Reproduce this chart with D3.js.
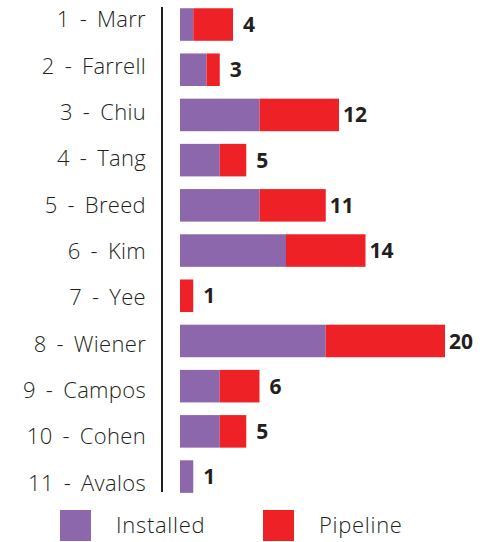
<!DOCTYPE html>
<html>
<head>
<meta charset="utf-8">
<script src="https://cdn.jsdelivr.net/npm/d3@7"></script>
<style>
  body { margin: 0; background: #fff; }
  text { font-family: "Open Sans", "Liberation Sans", sans-serif; }
</style>
</head>
<body>
<div id="chart"></div>
<script>
var districts = ['1 - Marr', '2 - Farrell', '3 - Chiu', '4 - Tang', '5 - Breed', '6 - Kim',
  '7 - Yee', '8 - Wiener', '9 - Campos', '10 - Cohen', '11 - Avalos'];
var installed = [1, 2, 6, 3, 6, 8, 0, 11, 3, 3, 1];
var pipeline = [3, 1, 6, 2, 5, 6, 1, 9, 3, 2, 0];
var seriesNames = ['Installed', 'Pipeline'];
var seriesColors = ['#8c67ab', '#ee2226'];

var w = 497;
var h = 542;
var font = '"Open Sans", "Liberation Sans", sans-serif';

var svg = d3.select('#chart').append('svg')
  .attr('width', w)
  .attr('height', h);

var rows = districts.map(function (d, i) {
  return { name: d, Installed: installed[i], Pipeline: pipeline[i] };
});

var stack = d3.stack().keys(seriesNames)(rows);

var x = d3.scaleLinear().domain([0, 20]).range([180, 445]);
var y = d3.scaleBand().domain(districts).range([-4.4, 505.5]).padding(0.28);
// the name labels sit on their own, slightly wider row spacing
var yLabel = d3.scalePoint().domain(districts).range([26.7, 490]);

// bars
svg.selectAll('g.series')
  .data(stack)
  .enter()
  .append('g')
  .attr('class', 'series')
  .attr('fill', function (d, i) { return seriesColors[i]; })
  .selectAll('rect')
  .data(function (d) { return d; })
  .enter()
  .append('rect')
  .attr('x', function (d) { return x(d[0]); })
  .attr('y', function (d) { return y(d.data.name); })
  .attr('width', function (d) { return x(d[1]) - x(d[0]); })
  .attr('height', y.bandwidth());

// totals
svg.selectAll('text.total')
  .data(rows)
  .enter()
  .append('text')
  .attr('class', 'total')
  .attr('x', function (d) { return x(d.Installed + d.Pipeline) + 16; })
  .attr('y', function (d) { return y(d.name) + y.bandwidth() / 2; })
  .attr('dy', '0.36em')
  .attr('text-anchor', 'middle')
  .attr('font-size', '21px')
  .attr('font-weight', 'bold')
  .attr('fill', '#231f20')
  .text(function (d) { return d.Installed + d.Pipeline; });

// district labels
var yAxis = d3.axisLeft(yLabel).tickSize(0).tickPadding(16);
var axisG = svg.append('g')
  .attr('transform', 'translate(162,0)')
  .call(yAxis);
axisG.select('.domain').remove();
axisG.selectAll('text')
  .attr('dy', 0)
  .attr('font-size', '22px')
  .attr('font-weight', 300)
  .attr('letter-spacing', '0.3px')
  .attr('font-family', font)
  .attr('fill', '#231f20')
  .text(function (d) { return d.replace(' - ', ' \u2009-\u2009 '); });

svg.append('line')
  .attr('x1', 162).attr('x2', 162)
  .attr('y1', 7).attr('y2', 492)
  .attr('stroke', '#231f20')
  .attr('stroke-width', 2);

// legend
var legend = svg.append('g').attr('transform', 'translate(0,510)');
var legX = [60, 263];
seriesNames.forEach(function (s, i) {
  legend.append('rect')
    .attr('x', legX[i]).attr('y', 0)
    .attr('width', 31).attr('height', 31)
    .attr('fill', seriesColors[i]);
  legend.append('text')
    .attr('x', legX[i] + 56)
    .attr('y', 23)
    .attr('font-size', '22px')
    .attr('font-weight', 300)
    .attr('letter-spacing', '0.7px')
    .attr('fill', '#231f20')
    .text(s);
});
</script>
</body>
</html>
